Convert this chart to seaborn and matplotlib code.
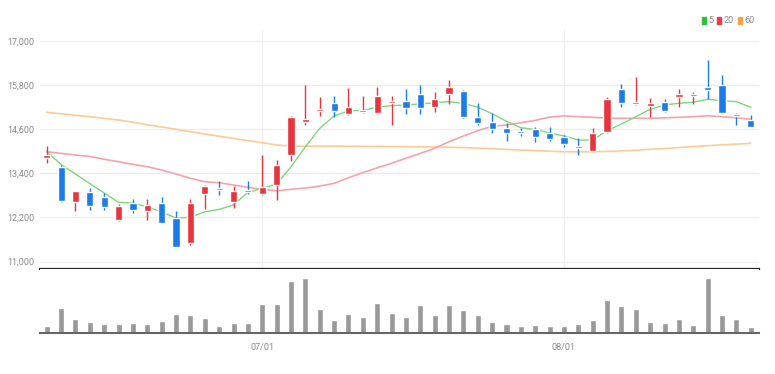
import numpy as np
import pandas as pd
import matplotlib
matplotlib.use("Agg")
import matplotlib.pyplot as plt
import seaborn as sns
from matplotlib.patches import Patch

# 일봉 데이터
opens = [13825, 13580, 12610, 12880, 12760, 12130, 12580, 12380, 12580, 12180,
         11500, 12840, 12990, 12610, 12950, 12830, 13080, 13900, 14790, 15090,
         15300, 15010, 15070, 15030, 15310, 15380, 15550, 15210, 15560, 15650,
         14940, 14790, 14640, 14560, 14600, 14490, 14400, 14140, 14020, 14530,
         15690, 15280, 15230, 15330, 15480, 15500, 15760, 15800, 15010, 14850]
highs = [14140, 13620, 12930, 13010, 12870, 12560, 12690, 12690, 12760, 12370,
         12690, 13070, 13190, 13060, 13190, 13900, 13760, 14950, 15800, 15480,
         15500, 15710, 15500, 15760, 15500, 15690, 15800, 15620, 15940, 15660,
         15300, 15050, 14780, 14640, 14670, 14650, 14430, 14350, 14640, 15480,
         15820, 16030, 15460, 15410, 15690, 15600, 16480, 16080, 15050, 14990]
lows = [13690, 12630, 12380, 12400, 12400, 12100, 12310, 12130, 12040, 11390,
        11440, 12430, 12810, 12470, 12850, 12820, 12670, 13740, 14710, 14960,
        14920, 14990, 15030, 15000, 14710, 15010, 15010, 15080, 15280, 14900,
        14710, 14500, 14290, 14420, 14260, 14280, 14110, 13900, 14010, 14500,
        15210, 15260, 14940, 15080, 15210, 15280, 15410, 15040, 14710, 14660]
closes = [13900, 12650, 12930, 12510, 12490, 12510, 12400, 12540, 12060, 11400,
          12580, 13060, 12950, 12930, 12890, 13020, 13630, 14940, 14880, 15140,
          15100, 15200, 15110, 15500, 15380, 15170, 15170, 15410, 15760, 14920,
          14760, 14610, 14500, 14510, 14380, 14330, 14200, 14100, 14510, 15410,
          15300, 15330, 15300, 15100, 15560, 15550, 15670, 15050, 14970, 14670]
volumes = [28, 100, 56, 44, 36, 36, 39, 36, 50, 78,
           74, 59, 28, 39, 39, 118, 118, 208, 222, 98,
           52, 78, 66, 120, 80, 66, 114, 71, 112, 91,
           71, 46, 38, 30, 32, 30, 30, 38, 52, 134,
           107, 98, 44, 39, 56, 32, 220, 74, 56, 24]

ma5 = [13990, 13640, 13380, 13120, 12865, 12611, 12592, 12490, 12347, 12184,
       12203, 12355, 12420, 12540, 12883, 12992, 13109, 13580, 14120, 14624,
       14960, 15100, 15110, 15200, 15240, 15259, 15286, 15321, 15349, 15300,
       15200, 15020, 14815, 14640, 14592, 14497, 14415, 14306, 14306, 14560,
       14741, 14940, 15142, 15259, 15305, 15332, 15414, 15376, 15349, 15196]
ma20 = [13988, 13943, 13898, 13860, 13781, 13716, 13645, 13580, 13490, 13380,
        13264, 13172, 13145, 13082, 13019, 12965, 12925, 12965, 13000, 13054,
        13128, 13280, 13420, 13550, 13672, 13810, 13943, 14080, 14260, 14415,
        14560, 14680, 14714, 14777, 14840, 14930, 14965, 14940, 14924, 14900,
        14897, 14897, 14897, 14910, 14924, 14940, 14965, 14940, 14910, 14870]
ma60 = [15060, 15020, 14980, 14940, 14895, 14850, 14790, 14720, 14660, 14600,
        14532, 14470, 14410, 14350, 14290, 14233, 14170, 14143, 14140, 14140,
        14140, 14138, 14135, 14133, 14130, 14125, 14120, 14115, 14110, 14100,
        14085, 14070, 14050, 14034, 14020, 14000, 13988, 13985, 13988, 13995,
        14010, 14030, 14053, 14075, 14100, 14130, 14150, 14175, 14195, 14216]

price_ticks = [11000, 12200, 13400, 14600, 15800, 17000]
date_tick_idx = [15, 36]
date_tick_labels = ["07/01", "08/01"]
ma_names = ["5", "20", "60"]

UP = "#e8343c"
DOWN = "#1b7be8"
MA_COLORS = ["#7ed67e", "#f5a3ab", "#fccb96"]
LEG_COLORS = ["#2fc13a", "#ee3b48", "#f5a447"]
TXT = "#8a8a8a"

df = pd.DataFrame({"idx": np.arange(len(closes)), "open": opens, "high": highs,
                   "low": lows, "close": closes, "volume": volumes,
                   "ma5": ma5, "ma20": ma20, "ma60": ma60})

sns.set_theme(style="white")
plt.rcParams['font.family'] = ['Roboto', 'DejaVu Sans']

fig = plt.figure(figsize=(7.75, 3.74), dpi=100)
ax = fig.add_axes([0.0516, 0.2807, 0.9277, 0.6393])
axv = fig.add_axes([0.0516, 0.1096, 0.9277, 0.1711])

# 가격 패널
for y in price_ticks:
    ax.axhline(y, color="#ececec", lw=0.9, zorder=0)
for i in date_tick_idx:
    ax.axvline(i, color="#f0f0f0", lw=0.9, zorder=0)

sns.lineplot(data=df, x="idx", y="ma60", ax=ax, color=MA_COLORS[2], lw=1.2, zorder=2)
sns.lineplot(data=df, x="idx", y="ma20", ax=ax, color=MA_COLORS[1], lw=1.2, zorder=2)
sns.lineplot(data=df, x="idx", y="ma5", ax=ax, color=MA_COLORS[0], lw=1.0, zorder=2)

up = df["close"] >= df["open"]
colors = np.where(up, UP, DOWN)
ax.vlines(df["idx"], df["low"], df["high"], colors=colors, lw=1.0, zorder=3)
body_bottom = np.minimum(df["open"], df["close"])
body_height = np.maximum(np.abs(df["close"] - df["open"]), 25)
ax.bar(df["idx"], body_height, bottom=body_bottom, width=0.5, color=colors, zorder=4)

ax.set_xlim(-0.47, 49.57)
ax.set_ylim(10798, 17300)
ax.set_yticks(price_ticks)
ax.set_yticklabels([f"{v:,}" for v in price_ticks], color=TXT, fontsize=6.5)
ax.tick_params(axis="y", length=0, pad=4)
ax.set_xticks([])
ax.set_xlabel("")
ax.set_ylabel("")
for s in ["top", "left", "right"]:
    ax.spines[s].set_visible(False)
ax.spines["bottom"].set_color("#222222")
ax.spines["bottom"].set_linewidth(1.6)

handles = [Patch(color=c) for c in LEG_COLORS]
leg = ax.legend(handles, ma_names, loc="lower right", bbox_to_anchor=(1.0, 1.0),
                ncol=3, frameon=False, handlelength=0.45, handleheight=0.9,
                handletextpad=0.25, columnspacing=0.45, fontsize=6.5,
                borderaxespad=0.1)
for t in leg.get_texts():
    t.set_color(TXT)

# 거래량 패널
sns.barplot(data=df, x="idx", y="volume", ax=axv, color="#999999",
            width=0.42, saturation=1, native_scale=True)
axv.set_xlim(-0.47, 49.57)
axv.set_ylim(0, max(volumes) * 1.16)
axv.set_yticks([])
axv.set_xticks(date_tick_idx)
axv.set_xticklabels(date_tick_labels, color=TXT, fontsize=6.5)
axv.tick_params(axis="x", length=3, width=0.8, color="#555555", pad=6, direction="inout")
axv.set_xlabel("")
axv.set_ylabel("")
for s in ["top", "left", "right"]:
    axv.spines[s].set_visible(False)
axv.spines["bottom"].set_color("#666666")
axv.spines["bottom"].set_linewidth(1.5)

fig.savefig("out.png", dpi=100, facecolor="white")
